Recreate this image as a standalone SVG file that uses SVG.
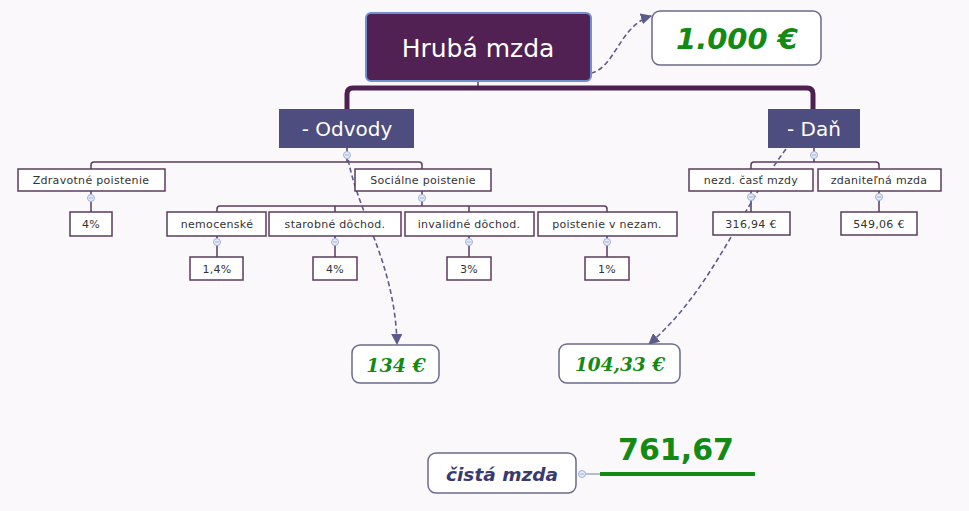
<svg xmlns="http://www.w3.org/2000/svg" width="969" height="511" viewBox="0 0 969 511">
<style>
.bg{fill:#fbf8fc}
.tb{fill:#ffffff;stroke:#5b3b5e;stroke-width:1.5}
.tt{font-family:"DejaVu Sans",Verdana,sans-serif;font-size:11px;letter-spacing:0.3px;fill:#333333;text-anchor:middle}
.ln{fill:none;stroke:#5b3b5e;stroke-width:1.5}
.dash{fill:none;stroke:#5c5c8c;stroke-width:1.6;stroke-dasharray:5,3}
.cb{fill:#e4eaf6;stroke:#9db1da;stroke-width:1}
.cm{stroke:#9db1da;stroke-width:1}
.vbox{fill:#ffffff;stroke:#6a6a8c;stroke-width:1.5}
.green{fill:#138a13}
</style>
<defs>
<marker id="arr" viewBox="0 0 10 10" refX="9" refY="5" markerWidth="7" markerHeight="7" orient="auto">
<path d="M0,0 L10,5 L0,10 z" fill="#5c5c8c"/>
</marker>
<g id="cir"><circle class="cb" r="3.5"/><line class="cm" x1="-2" y1="0" x2="2" y2="0"/></g>
</defs>
<rect class="bg" x="0" y="0" width="969" height="511"/>

<g id="connectors">
<line class="ln" x1="478" y1="81" x2="478" y2="88"/>
<path d="M347,109 V94 Q347,88 353,88 H807 Q813,88 813,94 V109" fill="none" stroke="#4e2150" stroke-width="5"/>
<path class="ln" d="M347,148 V162 M91,169 V165 Q91,162 94,162 H419 Q422,162 422,165 V169"/>
<path class="ln" d="M814,148 V162 M751,169 V165 Q751,162 754,162 H876 Q879,162 879,165 V169"/>
<path class="ln" d="M91,191 V212"/>
<path class="ln" d="M422,191 V206 M217,212 V209 Q217,206 220,206 H604 Q607,206 607,209 V212 M335,206 V212 M469,206 V212"/>
<path class="ln" d="M217,236 V257 M335,236 V257 M469,236 V257 M607,236 V257"/>
<path class="ln" d="M751,191 V212 M879,191 V212"/>
<path class="dash" d="M591,73 C615,68 620,25 651,16" marker-end="url(#arr)"/>
<path class="dash" d="M347,152 C355,210 395,260 397,344" marker-end="url(#arr)"/>
<path class="dash" d="M786,149 C740,210 712,290 649,344" marker-end="url(#arr)"/>
<line x1="586" y1="474" x2="600" y2="474" stroke="#6a8a9a" stroke-width="1"/>
<line x1="600" y1="474" x2="755" y2="474" stroke="#138a13" stroke-width="4"/>
</g>

<g id="hruba">
<rect x="366" y="13" width="225" height="68" rx="5" fill="#502152" stroke="#6f90d2" stroke-width="2"/>
<text x="478" y="57" font-family="DejaVu Sans,Verdana,sans-serif" font-size="25" fill="#ffffff" text-anchor="middle">Hrubá mzda</text>
</g>
<g id="v1000">
<rect class="vbox" x="652" y="11" width="169" height="54" rx="8"/>
<text x="737" y="49" font-family="DejaVu Sans,Verdana,sans-serif" font-size="29" font-weight="bold" font-style="italic" class="green" text-anchor="middle">1.000 €</text>
</g>
<g id="odvody">
<rect x="279" y="109" width="135" height="39" fill="#4e4d80"/>
<text x="347" y="136" font-family="DejaVu Sans,Verdana,sans-serif" font-size="20" fill="#ffffff" text-anchor="middle">- Odvody</text>
</g>
<g id="dan">
<rect x="768" y="109" width="92" height="39" fill="#4e4d80"/>
<text x="814" y="136" font-family="DejaVu Sans,Verdana,sans-serif" font-size="20" fill="#ffffff" text-anchor="middle">- Daň</text>
</g>

<g id="zdravotne"><rect class="tb" x="18" y="169" width="147" height="22"/><text class="tt" x="91" y="184">Zdravotné poistenie</text></g>
<g id="zdr4"><rect class="tb" x="70" y="212" width="42" height="24"/><text class="tt" x="91" y="228">4%</text></g>
<g id="socialne"><rect class="tb" x="355" y="169" width="136" height="22"/><text class="tt" x="423" y="184">Sociálne poistenie</text></g>
<g id="nemocenske"><rect class="tb" x="167" y="212" width="99" height="24"/><text class="tt" x="217" y="228">nemocenské</text></g>
<g id="starobne"><rect class="tb" x="269" y="212" width="132" height="24"/><text class="tt" x="335" y="228">starobné dôchod.</text></g>
<g id="invalidne"><rect class="tb" x="405" y="212" width="129" height="24"/><text class="tt" x="469" y="228">invalidné dôchod.</text></g>
<g id="nezam"><rect class="tb" x="538" y="212" width="139" height="24"/><text class="tt" x="607" y="228">poistenie v nezam.</text></g>
<g id="p14"><rect class="tb" x="190" y="257" width="53" height="23"/><text class="tt" x="217" y="273">1,4%</text></g>
<g id="p4"><rect class="tb" x="313" y="257" width="44" height="23"/><text class="tt" x="335" y="273">4%</text></g>
<g id="p3"><rect class="tb" x="447" y="257" width="44" height="23"/><text class="tt" x="469" y="273">3%</text></g>
<g id="p1"><rect class="tb" x="585" y="257" width="44" height="23"/><text class="tt" x="607" y="273">1%</text></g>
<g id="nezd"><rect class="tb" x="689" y="169" width="124" height="22"/><text class="tt" x="751" y="184">nezd. časť mzdy</text></g>
<g id="zdanitelna"><rect class="tb" x="818" y="169" width="123" height="22"/><text class="tt" x="879" y="184">zdaniteľná mzda</text></g>
<g id="v316"><rect class="tb" x="713" y="212" width="77" height="23"/><text class="tt" x="751" y="228">316,94 €</text></g>
<g id="v549"><rect class="tb" x="841" y="212" width="76" height="23"/><text class="tt" x="879" y="228">549,06 €</text></g>

<g id="markers">
<use href="#cir" x="347" y="155"/>
<use href="#cir" x="814" y="155"/>
<use href="#cir" x="91" y="198"/>
<use href="#cir" x="422" y="198"/>
<use href="#cir" x="217" y="242"/>
<use href="#cir" x="335" y="242"/>
<use href="#cir" x="469" y="242"/>
<use href="#cir" x="607" y="242"/>
<use href="#cir" x="751" y="197"/>
<use href="#cir" x="879" y="197"/>
<use href="#cir" x="582" y="474"/>
</g>

<g id="v134">
<rect class="vbox" x="352" y="345" width="87" height="38" rx="8"/>
<text x="396" y="372" font-family="DejaVu Serif,Georgia,serif" font-size="19" font-weight="bold" font-style="italic" class="green" text-anchor="middle">134 €</text>
</g>
<g id="v104">
<rect class="vbox" x="559" y="344" width="121" height="39" rx="8"/>
<text x="620" y="371" font-family="DejaVu Serif,Georgia,serif" font-size="18.5" font-weight="bold" font-style="italic" class="green" text-anchor="middle">104,33 €</text>
</g>
<g id="cista">
<rect class="vbox" x="428" y="453" width="148" height="40" rx="8"/>
<text x="502" y="481" font-family="DejaVu Sans,Verdana,sans-serif" font-size="18.5" font-weight="bold" font-style="italic" fill="#3a3a70" text-anchor="middle">čistá mzda</text>
</g>
<g id="v761">
<text x="676" y="460" font-family="DejaVu Sans,Verdana,sans-serif" font-size="30" font-weight="bold" class="green" text-anchor="middle">761,67</text>
</g>
</svg>
